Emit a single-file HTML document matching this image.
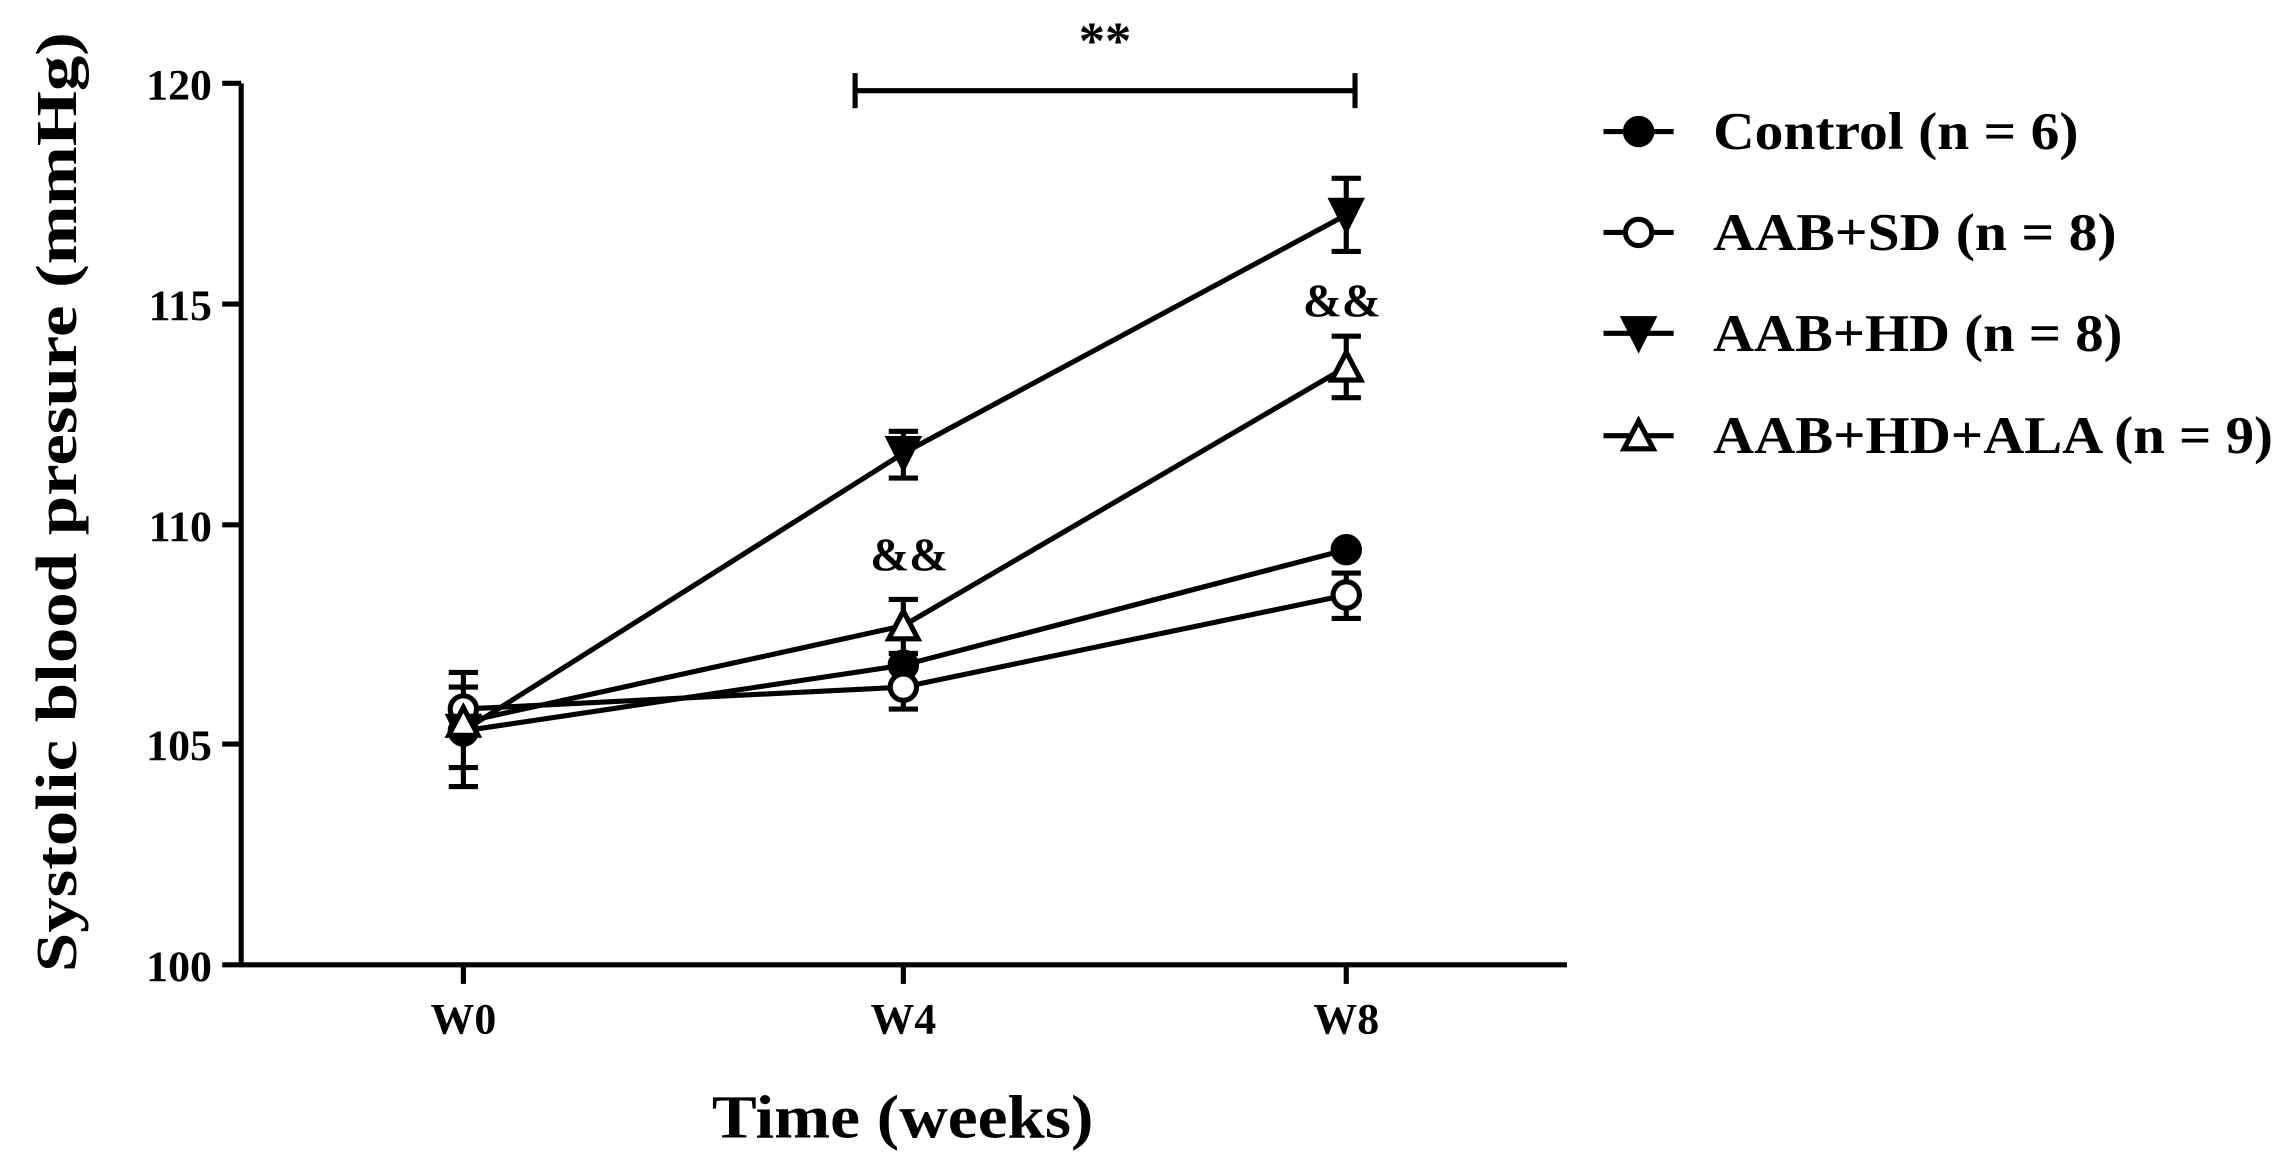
<!DOCTYPE html>
<html><head><style>html,body{margin:0;padding:0;background:#fff}svg{display:block}</style></head><body>
<svg width="2292" height="1171" viewBox="0 0 1568 801" preserveAspectRatio="none" xmlns="http://www.w3.org/2000/svg" font-family="Liberation Serif, serif" font-weight="bold">
<g stroke="#000" stroke-width="3.5" fill="none">
<line x1="165" y1="57" x2="165" y2="661"/>
<line x1="164" y1="660" x2="1072" y2="660"/>
<line x1="152" y1="57" x2="165" y2="57"/>
<line x1="152" y1="208" x2="165" y2="208"/>
<line x1="152" y1="359" x2="165" y2="359"/>
<line x1="152" y1="509" x2="165" y2="509"/>
<line x1="152" y1="660" x2="165" y2="660"/>
<line x1="317" y1="660" x2="317" y2="673"/>
<line x1="618" y1="660" x2="618" y2="673"/>
<line x1="921" y1="660" x2="921" y2="673"/>
<line x1="585" y1="62" x2="927" y2="62"/>
<line x1="585" y1="50" x2="585" y2="74"/>
<line x1="927" y1="50" x2="927" y2="74"/>
<polyline points="317,500 618,455 921,376"/>
<polyline points="317,485 618,470 921,407"/>
<polyline points="317,500 618,310 921,147"/>
<polyline points="317,494 618,428 921,251"/>
<g>
<line x1="317" y1="460" x2="317" y2="538"/><line x1="307" y1="460" x2="327" y2="460"/><line x1="307" y1="538" x2="327" y2="538"/>
<line x1="307" y1="470" x2="327" y2="470"/><line x1="307" y1="525" x2="327" y2="525"/>
<line x1="618" y1="295" x2="618" y2="327"/><line x1="608" y1="295" x2="628" y2="295"/><line x1="608" y1="327" x2="628" y2="327"/>
<line x1="618" y1="410" x2="618" y2="485"/><line x1="608" y1="410" x2="628" y2="410"/><line x1="608" y1="447" x2="628" y2="447"/><line x1="608" y1="485" x2="628" y2="485"/>
<line x1="921" y1="122" x2="921" y2="172"/><line x1="911" y1="122" x2="931" y2="122"/><line x1="911" y1="172" x2="931" y2="172"/>
<line x1="921" y1="230" x2="921" y2="272"/><line x1="911" y1="230" x2="931" y2="230"/><line x1="911" y1="272" x2="931" y2="272"/>
<line x1="921" y1="392" x2="921" y2="423"/><line x1="911" y1="392" x2="931" y2="392"/><line x1="911" y1="423" x2="931" y2="423"/>
</g>
<line x1="1097" y1="90" x2="1145" y2="90"/>
<line x1="1097" y1="159" x2="1145" y2="159"/>
<line x1="1097" y1="228" x2="1145" y2="228"/>
<line x1="1097" y1="298" x2="1145" y2="298"/>
</g>
<g stroke="#000" stroke-width="3.5">
<circle cx="317" cy="500" r="9" fill="#000"/><circle cx="618" cy="455" r="9" fill="#000"/><circle cx="921" cy="376" r="9" fill="#000"/>
<circle cx="317" cy="485" r="9" fill="#fff"/><circle cx="618" cy="470" r="9" fill="#fff"/><circle cx="921" cy="407" r="9" fill="#fff"/>
<polygon points="307,490 327,490 317,510" fill="#000"/><polygon points="608,300 628,300 618,320" fill="#000"/><polygon points="911,137 931,137 921,157" fill="#000"/>
<polygon points="307,503 327,503 317,484" fill="#fff"/><polygon points="608,437 628,437 618,418" fill="#fff"/><polygon points="911,260 931,260 921,241" fill="#fff"/>
<circle cx="1121" cy="90" r="9" fill="#000"/>
<circle cx="1121" cy="159" r="9" fill="#fff"/>
<polygon points="1111,218 1131,218 1121,238" fill="#000"/>
<polygon points="1111,307 1131,307 1121,288" fill="#fff"/>
</g>
<g font-size="30" text-anchor="end">
<text x="145" y="68">120</text><text x="145" y="219">115</text><text x="145" y="370">110</text><text x="145" y="520">105</text><text x="145" y="671">100</text>
</g>
<g font-size="30" text-anchor="middle">
<text x="317" y="707">W0</text><text x="618" y="707">W4</text><text x="921" y="707">W8</text>
<text x="756" y="40" font-size="36">**</text>
<text x="622" y="390" font-size="32">&amp;&amp;</text>
<text x="918" y="216" font-size="32">&amp;&amp;</text>
</g>
<text x="487" y="778" font-size="42" textLength="261" lengthAdjust="spacingAndGlyphs">Time (weeks)</text>
<text transform="translate(52,665) rotate(-90)" font-size="40" textLength="643" lengthAdjust="spacingAndGlyphs">Systolic blood presure (mmHg)</text>
<g font-size="36">
<text x="1172" y="102" textLength="250" lengthAdjust="spacingAndGlyphs">Control (n = 6)</text>
<text x="1172" y="171" textLength="276" lengthAdjust="spacingAndGlyphs">AAB+SD (n = 8)</text>
<text x="1172" y="240" textLength="280" lengthAdjust="spacingAndGlyphs">AAB+HD (n = 8)</text>
<text x="1172" y="310" textLength="383" lengthAdjust="spacingAndGlyphs">AAB+HD+ALA (n = 9)</text>
</g>
</svg>
</body></html>
